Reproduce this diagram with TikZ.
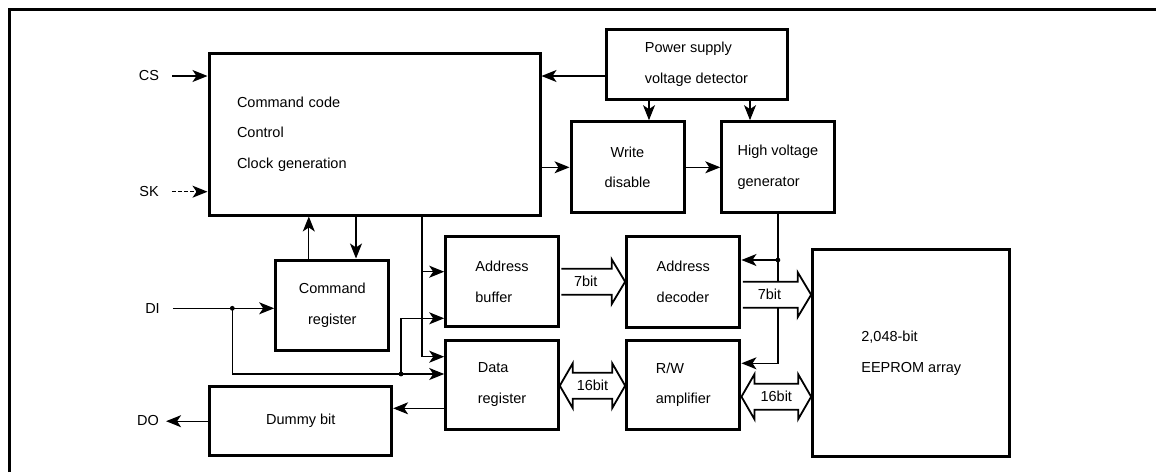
\documentclass[tikz,border=0pt]{standalone}
\usepackage{fontspec}
\setmainfont{Liberation Sans}
\usetikzlibrary{arrows.meta,calc}

\tikzset{
  txt/.style={font=\fontsize{14.5}{30.5}\selectfont},
  blk/.style={txt,draw,line width=3pt,inner sep=0pt,align=left},
  lbl/.style={txt,inner sep=0pt},
  sig/.style={line width=1.2pt,-{Stealth[length=15pt,width=12pt,inset=4pt]}},
  busline/.style={draw,line width=1.8pt,fill=white},
}

% one-way bus, #1 start, #2 tip, #3 name of label, #4 label
\newcommand{\busone}[4]{%
  \path[busline] let \p1=#1, \p2=#2 in
    (\x1+1.5pt,\y1+13pt) -- (\x2-13.5pt,\y1+13pt) -- (\x2-13.5pt,\y1+22.5pt) -- (\x2,\y1)
    -- (\x2-13.5pt,\y1-22.5pt) -- (\x2-13.5pt,\y1-13pt) -- (\x1+1.5pt,\y1-13pt)
    node[lbl] (#3) at ({0.5*\x1+0.5*\x2-6.75pt},\y1) {#4};}
% two-way bus
\newcommand{\bustwo}[4]{%
  \path[busline] let \p1=#1, \p2=#2 in
    (\x1,\y1) -- (\x1+13pt,\y1+22.5pt) -- (\x1+13pt,\y1+13pt) -- (\x2-13pt,\y1+13pt)
    -- (\x2-13pt,\y1+22.5pt) -- (\x2,\y1) -- (\x2-13pt,\y1-22.5pt) -- (\x2-13pt,\y1-13pt)
    -- (\x1+13pt,\y1-13pt) -- (\x1+13pt,\y1-22.5pt) -- cycle
    node[lbl] (#3) at ({0.5*\x1+0.5*\x2},\y1) {#4};}

\begin{document}
\begin{tikzpicture}[x=1pt,y=-1pt]
  \useasboundingbox (0,0) rectangle (1156,472);
  \draw[line width=3pt] (9,472) -- (9,9) -- (1156,9);

  % blocks
  \node[blk,minimum width=331,minimum height=162,text width=275pt] (ctrl) at (374.5,134)
    {Command code\\Control\\Clock generation};
  \node[blk,minimum width=181,minimum height=69.5] (ps) at (696.5,64.3) {Power supply\\voltage detector};
  \node[blk,minimum width=113,minimum height=91.3,align=center] (wd) at (627.5,167.3) {Write\\disable};
  \node[blk,minimum width=112.3,minimum height=91.3] (hv) at (777.9,167.3) {High voltage\\generator};
  \node[blk,minimum width=113.3,minimum height=90,align=center] (cr) at (332.3,305) {Command\\register};
  \node[blk,minimum width=112.6,minimum height=90] (ab) at (502,281.7) {Address\\buffer};
  \node[blk,minimum width=112.6,minimum height=89.3] (dr) at (502,384.7) {Data\\register};
  \node[blk,minimum width=113.3,minimum height=90.6] (ad) at (683.3,282) {Address\\decoder};
  \node[blk,minimum width=113.3,minimum height=89.3] (rw) at (683.3,384.7) {R/W\\amplifier};
  \node[blk,minimum width=197.3,minimum height=206.7] (ee) at (911.3,353.3) {2,048-bit\\EEPROM array};
  \node[blk,minimum width=181.7,minimum height=69,align=center] (dm) at (300.8,421.2) {Dummy bit};

  % pins
  \node[lbl] (cs) at (149,76) {CS};
  \node[lbl] (sk) at (149,191.7) {SK};
  \node[lbl] (di) at (152.5,308.3) {DI};
  \node[lbl] (do) at (148,421) {DO};

  \draw[sig,shorten <=13pt] (cs.east) -- (cs -| ctrl.west);
  \draw[sig,dash pattern=on 4pt off 2pt,shorten <=13pt] (sk.east) -- (sk -| ctrl.west);
  \draw[sig,shorten >=7pt] (dm.west) -- (dm.west -| do.east);

  \draw[sig] (ps.west |- cs) -- (ctrl.east |- cs);
  \coordinate (pa) at ([xshift=-47.5pt]ps.south);
  \coordinate (pb) at ([xshift=53.5pt]ps.south);
  \draw[sig] (pa) -- (pa |- wd.north);
  \draw[sig] (pb) -- (pb |- hv.north);
  \draw[sig] (ctrl.east |- wd.west) -- (wd.west);
  \draw[sig] (wd.east) -- (hv.west);

  \coordinate (cu) at ([xshift=-23.5pt]cr.north);
  \coordinate (cd) at ([xshift=23.7pt]cr.north);
  \draw[sig] (cu) -- (cu |- ctrl.south);
  \draw[sig] (cd |- ctrl.south) -- (cd);

  % control lines to address buffer and data register
  \coordinate (tap) at ([xshift=47.5pt]ctrl.south);
  \coordinate (abin1) at ([yshift=10pt]ab.west);
  \coordinate (abin2) at ([yshift=-36.6pt]ab.west);
  \coordinate (drin1) at ([yshift=28pt]dr.west);
  \coordinate (drin2) at ([yshift=10.7pt]dr.west);
  \draw[sig] (tap) |- (drin1);
  \draw[sig] (abin1 -| tap) -- (abin1);

  % DI
  \coordinate (j1) at (232.3,308.3);
  \coordinate (j2) at (401,374);
  \draw[sig,shorten <=13pt] (di.east) -- (di -| cr.west);
  \draw[sig] (j1) |- (drin2);
  \draw[sig] (j2) |- (abin2);
  \fill (j1) circle (2.4pt) (j2) circle (2.4pt);

  \coordinate (dout) at ([yshift=-23.6pt]dr.west);
  \draw[sig] (dout) -- (dout -| dm.east);

  % high voltage
  \coordinate (adin) at ([yshift=22pt]ad.east);
  \coordinate (rwin) at ([yshift=21.4pt]rw.east);
  \coordinate (j3) at (adin -| hv.south);
  \draw[sig] (hv.south) |- (rwin);
  \draw[sig] (j3) -- (adin);
  \fill (j3) circle (2.4pt);

  % buses
  \busone{(ab.east)}{(ad.west)}{b1}{7bit}
  \busone{([yshift=-12.7pt]ad.east)}{(ee.west)}{b2}{7bit}
  \bustwo{([yshift=-1pt]dr.east)}{(rw.west)}{b3}{16bit}
  \bustwo{([yshift=-12pt]rw.east)}{(ee.west)}{b4}{16bit}
\end{tikzpicture}
\end{document}
